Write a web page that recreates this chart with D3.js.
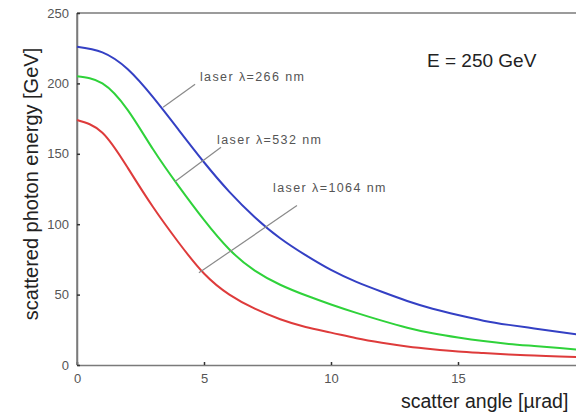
<!DOCTYPE html>
<html>
<head>
<meta charset="utf-8">
<script src="https://cdn.jsdelivr.net/npm/d3@7"></script>
<style>
  html, body { margin: 0; padding: 0; background: #fff; }
  svg { display: block; font-family: "Liberation Sans", Arial, sans-serif; }
</style>
</head>
<body>
<svg id="chart" width="576" height="413"></svg>
<script>
// scatter angle in microrad
const angles = [0, 1, 2, 3, 4, 5, 6, 7, 8, 9, 10, 11, 12, 13, 14, 15, 16, 17, 18, 19, 20];
// scattered photon energy [GeV] for each laser wavelength
const energy266 = [226, 222, 210, 190, 167, 144, 123, 105, 90, 78, 67.5, 59, 52, 45.5, 40, 35.5, 31.5, 28.5, 26, 23.5, 21];
const energy532 = [205, 200, 181, 153, 127, 103, 82, 67, 57, 49.5, 43, 37, 31.5, 26.5, 22.5, 19.5, 17, 15, 13.5, 12, 10.5];
const energy1064 = [174, 165, 140, 112, 87, 65, 50, 40, 32.5, 27, 23, 19, 15.8, 13.2, 11.2, 9.6, 8.5, 7.5, 6.8, 6.1, 5.5];

const xTicks = [0, 5, 10, 15];
const yTicks = [0, 50, 100, 150, 200, 250];

// labels and where their pointer lines go (data units)
const labels = ["laser λ=266 nm", "laser λ=532 nm", "laser λ=1064 nm"];
const pointerFrom = [[3.39, 183], [3.86, 130.3], [4.8, 65.5]];
const pointerTo = [[4.65, 199.4], [5.67, 154.6], [8.66, 113.2]];
const labelAt = [[4.84, 201.6], [5.51, 156.7], [7.72, 123.2]];

const colors = ["#3440c4", "#2fd23a", "#de3b3b"];
const series = [energy266, energy532, energy1064];

const svg = d3.select("#chart");
const marginLeft = 77, marginTop = 13, plotBottom = 365;

const x = d3.scaleLinear().domain([0, 20]).range([marginLeft, marginLeft + 508]);
const y = d3.scaleLinear().domain([0, 250]).range([plotBottom, marginTop]);

const axisColor = "#7a7a7a";

// frame: left and top lines
svg.append("line")
    .attr("x1", x(0)).attr("x2", x(0)).attr("y1", y(0)).attr("y2", y(250))
    .attr("stroke", axisColor).attr("stroke-width", 1.5);
svg.append("line")
    .attr("x1", x(0)).attr("x2", x(20)).attr("y1", y(250)).attr("y2", y(250))
    .attr("stroke", axisColor).attr("stroke-width", 1.5);

// bottom axis
const xAxis = svg.append("g")
    .attr("transform", `translate(0,${plotBottom})`)
    .call(d3.axisBottom(x).tickValues(xTicks).tickSizeInner(-3).tickSizeOuter(0).tickPadding(9));
// left axis
const yAxis = svg.append("g")
    .attr("transform", `translate(${marginLeft},0)`)
    .call(d3.axisLeft(y).tickValues(yTicks).tickSizeInner(-3).tickSizeOuter(0).tickPadding(8));

[xAxis, yAxis].forEach(g => {
    g.select(".domain").attr("stroke", axisColor).attr("stroke-width", 1.5);
    g.selectAll(".tick line").attr("stroke", "#333").attr("stroke-width", 1.5);
    g.selectAll(".tick text")
        .attr("font-family", "Liberation Sans, Arial, sans-serif")
        .attr("font-size", 13)
        .attr("fill", "#555");
});

// curves
const line = d3.line()
    .x((d, i) => x(angles[i]))
    .y(d => y(d))
    .curve(d3.curveNatural);

series.forEach((s, i) => {
    svg.append("path")
        .datum(s)
        .attr("fill", "none")
        .attr("stroke", colors[i])
        .attr("stroke-width", 2)
        .attr("d", line);
});

// pointer lines and labels
labels.forEach((t, i) => {
    svg.append("line")
        .attr("x1", x(pointerFrom[i][0])).attr("y1", y(pointerFrom[i][1]))
        .attr("x2", x(pointerTo[i][0])).attr("y2", y(pointerTo[i][1]))
        .attr("stroke", "#8a8a8a").attr("stroke-width", 1.2);
    svg.append("text")
        .attr("x", x(labelAt[i][0])).attr("y", y(labelAt[i][1]))
        .attr("font-size", 12.5)
        .attr("letter-spacing", 1.4)
        .attr("fill", "#555")
        .text(t);
});

// energy note
svg.append("text")
    .attr("x", 427).attr("y", 67)
    .attr("font-size", 19)
    .attr("fill", "#222")
    .text("E = 250 GeV");

// axis titles
svg.append("text")
    .attr("x", 401).attr("y", 408)
    .attr("font-size", 19.5)
    .attr("fill", "#222")
    .text("scatter angle [µrad]");

svg.append("text")
    .attr("transform", `translate(38,184) rotate(-90)`)
    .attr("text-anchor", "middle")
    .attr("font-size", 20)
    .attr("fill", "#222")
    .text("scattered photon energy [GeV]");
</script>
</body>
</html>
